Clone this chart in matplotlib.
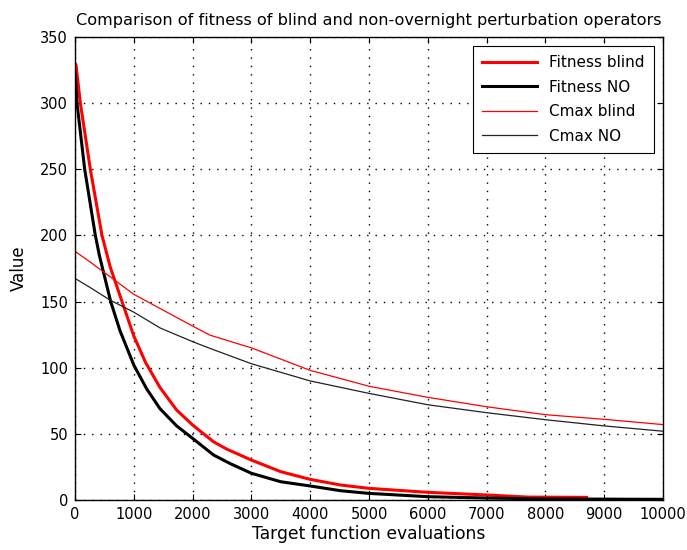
import matplotlib
matplotlib.use("Agg")
import matplotlib.pyplot as plt

plt.rcParams['font.family'] = ['DejaVu Sans']

# Fitness blind (red, thick)
fb_x = [0, 17, 91, 261, 459, 600, 800, 1000, 1200, 1446, 1729,
        2000, 2357, 2579, 3000, 3500, 4000, 4520, 5000, 6000, 7000, 7700, 8700]
fb_y = [330, 329, 300, 250, 200, 176, 150, 124, 104, 85, 68,
        56.7, 44, 38.5, 30.2, 21.4, 15.6, 11.3, 8.8, 5.8, 3.8, 2.2, 2]

# Fitness NO (black, thick)
fn_x = [0, 6, 34, 165, 346, 414, 607, 765, 1000, 1219, 1446, 1729,
        2000, 2357, 2640, 3000, 3500, 4000, 4520, 5000, 6000, 7000, 8000, 10000]
fn_y = [322, 320, 300, 250, 200, 185, 150, 128, 102, 84, 69, 56,
        46.6, 34, 27.5, 20.2, 13.8, 10.6, 7, 5, 2.5, 1.5, 0.8, 0.5]

# Cmax blind (red, thin)
cb_x = [0, 255, 1000, 2000, 2290, 3000, 4000, 5000, 6000, 7000, 8000, 9000, 10000]
cb_y = [188, 180, 155.5, 131.5, 124.7, 115, 98, 86, 77.6, 70.5, 64.5, 61, 57]

# Cmax NO (black, thin)
cn_x = [0, 255, 600, 1000, 1450, 2000, 2290, 3000, 4000, 5000, 6000, 7000,
        8000, 9000, 10000]
cn_y = [167.5, 160.7, 151, 142, 130, 119.7, 114.7, 103, 90, 80.6, 72, 66,
        60.7, 56, 52]

labels = ['Fitness blind', 'Fitness NO', 'Cmax blind', 'Cmax NO']

fig = plt.figure(figsize=(6.87, 5.5), dpi=100)
ax = fig.add_axes([75/687, 50/550, 588/687, 463/550])

ax.plot(fb_x, fb_y, color='#ff0000', lw=2.2, label=labels[0])
ax.plot(fn_x, fn_y, color='black', lw=2.2, label=labels[1])
ax.plot(cb_x, cb_y, color='#ff0000', lw=0.9, label=labels[2])
ax.plot(cn_x, cn_y, color='#222222', lw=0.9, label=labels[3])

ax.set_xlim(0, 10000)
ax.set_ylim(0, 350)
ax.set_xticks(range(0, 10001, 1000))
ax.set_yticks(range(0, 351, 50))
ax.grid(True, color='black', linestyle=(0, (1, 5)), linewidth=1.0)
ax.tick_params(direction='in', length=4, top=True, right=True, labelsize=10.5, pad=5)
for s in ax.spines.values():
    s.set_linewidth(1.0)

ax.set_xlabel('Target function evaluations', fontsize=12.3, labelpad=2)
ax.set_ylabel('Value', fontsize=12, labelpad=9)
ax.set_title('Comparison of fitness of blind and non-overnight perturbation operators',
             fontsize=11.6, pad=9)

leg = ax.legend(loc='upper right', fontsize=11, fancybox=False, framealpha=1,
                edgecolor='black', borderaxespad=0.6, handlelength=3.6,
                labelspacing=0.62, borderpad=0.6)
leg.get_frame().set_linewidth(0.8)

fig.savefig('out.png', dpi=100)
